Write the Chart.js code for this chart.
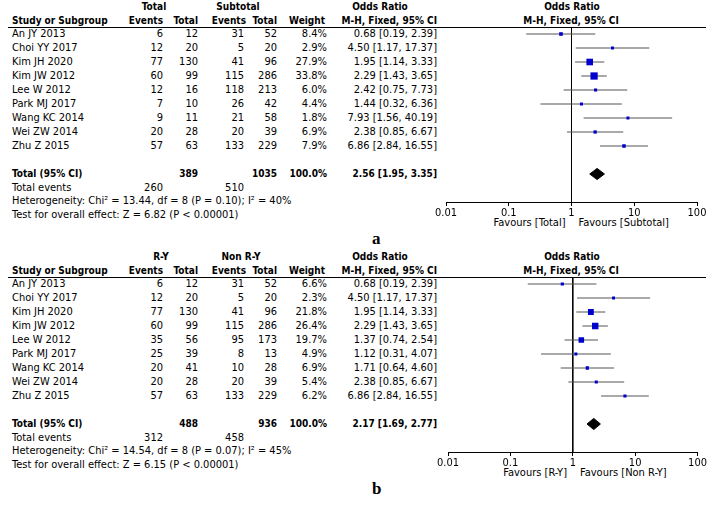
<!DOCTYPE html>
<html>
<head>
<meta charset="utf-8">
<script src="https://cdn.jsdelivr.net/npm/chart.js@4/dist/chart.umd.min.js"></script>
<style>
  body { margin: 0; background: #fff; }
  #page { position: relative; width: 708px; height: 506px; overflow: hidden; font-family: "DejaVu Sans Condensed", "DejaVu Sans", sans-serif; font-stretch: condensed; font-size: 11px; color: #000; }
  .t { position: absolute; white-space: nowrap; height: 12px; line-height: 12px; }
  .b { font-weight: bold; font-size: 10px; }
  .rule { position: absolute; height: 1px; background: #000; }
  .lab { position: absolute; font-family: "Liberation Serif", serif; font-stretch: normal; font-weight: bold; font-size: 17px; line-height: 18px; }
  canvas { position: absolute; }
</style>
</head>
<body>
<div id="page"></div>
<script>
// studies (same for both panels)
const studies = ["An JY 2013", "Choi YY 2017", "Kim JH 2020", "Kim JW 2012", "Lee W 2012",
  "Park MJ 2017", "Wang KC 2014", "Wei ZW 2014", "Zhu Z 2015"];

// panel a: Total vs Subtotal
const aEvents1 = [6, 12, 77, 60, 12, 7, 9, 20, 57];
const aTotal1 = [12, 20, 130, 99, 16, 10, 11, 28, 63];
const aEvents2 = [31, 5, 41, 115, 118, 26, 21, 20, 133];
const aTotal2 = [52, 20, 96, 286, 213, 42, 58, 39, 229];
const aWeight = [8.4, 2.9, 27.9, 33.8, 6.0, 4.4, 1.8, 6.9, 7.9];
const aOR = [0.68, 4.50, 1.95, 2.29, 2.42, 1.44, 7.93, 2.38, 6.86];
const aLo = [0.19, 1.17, 1.14, 1.43, 0.75, 0.32, 1.56, 0.85, 2.84];
const aHi = [2.39, 17.37, 3.33, 3.65, 7.73, 6.36, 40.19, 6.67, 16.55];
const aPooled = [2.56, 1.95, 3.35]; // est, lo, hi
const aSums = [389, 1035, 260, 510]; // total1, total2, events1, events2

// panel b: R-Y vs Non R-Y
const bEvents1 = [6, 12, 77, 60, 35, 25, 20, 20, 57];
const bTotal1 = [12, 20, 130, 99, 56, 39, 41, 28, 63];
const bEvents2 = [31, 5, 41, 115, 95, 8, 10, 20, 133];
const bTotal2 = [52, 20, 96, 286, 173, 13, 28, 39, 229];
const bWeight = [6.6, 2.3, 21.8, 26.4, 19.7, 4.9, 6.9, 5.4, 6.2];
const bOR = [0.68, 4.50, 1.95, 2.29, 1.37, 1.12, 1.71, 2.38, 6.86];
const bLo = [0.19, 1.17, 1.14, 1.43, 0.74, 0.31, 0.64, 0.85, 2.84];
const bHi = [2.39, 17.37, 3.33, 3.65, 2.54, 4.07, 4.60, 6.67, 16.55];
const bPooled = [2.17, 1.69, 2.77];
const bSums = [488, 936, 312, 458];

// x axis ticks
const xTicks = [0.01, 0.1, 1, 10, 100];
const xLabels = ["0.01", "0.1", "1", "10", "100"];

const panelA = {
  dy: 0, tag: "a", groups: ["Total", "Subtotal"], favours: ["Favours [Total]", "Favours [Subtotal]"],
  e1: aEvents1, n1: aTotal1, e2: aEvents2, n2: aTotal2, weight: aWeight, or: aOR, lo: aLo, hi: aHi,
  pooled: aPooled, sums: aSums,
  het: "Heterogeneity: Chi\u00b2 = 13.44, df = 8 (P = 0.10); I\u00b2 = 40%",
  test: "Test for overall effect: Z = 6.82 (P < 0.00001)",
  groupX: [154, 238], axisLeft: 446, axisRight: 697
};
const panelB = {
  dy: 250, tag: "b", groups: ["R-Y", "Non R-Y"], favours: ["Favours [R-Y]", "Favours [Non R-Y]"],
  e1: bEvents1, n1: bTotal1, e2: bEvents2, n2: bTotal2, weight: bWeight, or: bOR, lo: bLo, hi: bHi,
  pooled: bPooled, sums: bSums,
  het: "Heterogeneity: Chi\u00b2 = 14.54, df = 8 (P = 0.07); I\u00b2 = 45%",
  test: "Test for overall effect: Z = 6.15 (P < 0.00001)",
  groupX: [161, 241], axisLeft: 448, axisRight: 698
};

const page = document.getElementById("page");
const col = { e1: 163, n1: 198, e2: 244, n2: 277, w: 327, or: 437 };
const fontFam = "'DejaVu Sans Condensed', 'DejaVu Sans', sans-serif";

function put(txt, x, y, align, bold) {
  const d = document.createElement("div");
  d.className = "t" + (bold ? " b" : "");
  d.textContent = txt;
  if (align === "right") {
    d.style.right = (708 - x) + "px";
  } else if (align === "center") {
    d.style.left = (x - 150) + "px";
    d.style.width = "300px";
    d.style.textAlign = "center";
  } else {
    d.style.left = x + "px";
  }
  d.style.top = (y - 6) + "px";
  page.appendChild(d);
}

function table(p) {
  const dy = p.dy;
  put(p.groups[0], p.groupX[0], dy + 7, "center", true);
  put(p.groups[1], p.groupX[1], dy + 7, "center", true);
  put("Odds Ratio", 380, dy + 7, "center", true);
  put("Odds Ratio", 572, dy + 7, "center", true);
  put("Study or Subgroup", 12, dy + 21, "left", true);
  put("Events", col.e1, dy + 21, "right", true);
  put("Total", col.n1, dy + 21, "right", true);
  put("Events", col.e2 + 2, dy + 21, "right", true);
  put("Total", col.n2, dy + 21, "right", true);
  put("Weight", col.w - 2, dy + 21, "right", true);
  put("M-H, Fixed, 95% CI", col.or, dy + 21, "right", true);
  put("M-H, Fixed, 95% CI", 571, dy + 21, "center", true);

  const rule = document.createElement("div");
  rule.className = "rule";
  rule.style.left = "8px";
  rule.style.width = "698px";
  rule.style.top = (dy + 27) + "px";
  page.appendChild(rule);

  studies.forEach((s, i) => {
    const y = dy + 34 + 14 * i;
    put(s, 12, y, "left");
    put(String(p.e1[i]), col.e1, y, "right");
    put(String(p.n1[i]), col.n1, y, "right");
    put(String(p.e2[i]), col.e2, y, "right");
    put(String(p.n2[i]), col.n2, y, "right");
    put(p.weight[i].toFixed(1) + "%", col.w, y, "right");
    put(p.or[i].toFixed(2) + " [" + p.lo[i].toFixed(2) + ", " + p.hi[i].toFixed(2) + "]", col.or, y, "right");
  });

  put("Total (95% CI)", 12, dy + 174, "left", true);
  put(String(p.sums[0]), col.n1, dy + 174, "right", true);
  put(String(p.sums[1]), col.n2, dy + 174, "right", true);
  put("100.0%", col.w, dy + 174, "right", true);
  put(p.pooled[0].toFixed(2) + " [" + p.pooled[1].toFixed(2) + ", " + p.pooled[2].toFixed(2) + "]", col.or, dy + 174, "right", true);
  put("Total events", 12, dy + 188, "left");
  put(String(p.sums[2]), col.e1, dy + 188, "right");
  put(String(p.sums[3]), col.e2, dy + 188, "right");
  put(p.het, 12, dy + 201, "left");
  put(p.test, 12, dy + 215, "left");

  const x1 = (p.axisLeft + p.axisRight) / 2;
  put(p.favours[0], x1 - 6, dy + 223, "right");
  put(p.favours[1], x1 + 7, dy + 223, "left");

  const lab = document.createElement("div");
  lab.className = "lab";
  lab.textContent = p.tag;
  lab.style.left = "372px";
  lab.style.top = (dy + 230) + "px";
  page.appendChild(lab);
}

function forest(p) {
  const c = document.createElement("canvas");
  c.width = 288;
  c.height = 212;
  c.style.left = "420px";
  c.style.top = (p.dy + 20) + "px";
  page.appendChild(c);

  const datasets = [];
  // pooled diamond
  const [est, plo, phi] = p.pooled;
  datasets.push({
    data: [{ x: plo, y: 10 }, { x: est, y: 9.6 }, { x: phi, y: 10 }, { x: est, y: 10.4 }, { x: plo, y: 10 }],
    showLine: true, fill: "shape", backgroundColor: "#000", borderColor: "#000", borderWidth: 1, pointRadius: 0
  });
  // study squares
  datasets.push({
    data: p.or.map((v, i) => ({ x: v, y: i })),
    pointStyle: "rect",
    pointRadius: p.weight.map(w => Math.max(3, 1.25 * Math.sqrt(w)) / (2 * Math.SQRT1_2)),
    backgroundColor: "#0000cc", borderColor: "#0000cc", borderWidth: 0
  });
  // confidence intervals
  p.lo.forEach((lo, i) => {
    datasets.push({
      data: [{ x: lo, y: i }, { x: p.hi[i], y: i }],
      showLine: true, borderColor: "#555", borderWidth: 1, pointRadius: 0
    });
  });
  // line of no effect
  datasets.push({
    data: [{ x: 1, y: -0.5 }, { x: 1, y: 12 }],
    showLine: true, borderColor: "#000", borderWidth: 1, pointRadius: 0
  });

  new Chart(c, {
    type: "scatter",
    data: { datasets: datasets },
    options: {
      responsive: false,
      animation: false,
      layout: { padding: { left: p.axisLeft - 420, right: 708 - p.axisRight, top: 7, bottom: 0 } },
      plugins: { legend: { display: false }, tooltip: { enabled: false } },
      scales: {
        x: {
          type: "logarithmic",
          min: xTicks[0],
          max: xTicks[xTicks.length - 1],
          afterBuildTicks: (s) => { s.ticks = xTicks.map(v => ({ value: v })); },
          afterFit: (s) => { s.height = 30; },
          ticks: {
            callback: (v, i) => xLabels[i],
            autoSkip: false, maxRotation: 0, padding: 1, color: "#000",
            font: { family: fontFam, size: 11 }
          },
          grid: { drawOnChartArea: false, drawTicks: true, tickLength: 4, color: "#000" },
          border: { display: true, color: "#000", width: 1 }
        },
        y: { type: "linear", min: -0.5, max: 12, reverse: true, display: false }
      }
    }
  });
}

[panelA, panelB].forEach(p => { table(p); forest(p); });
</script>
</body>
</html>
